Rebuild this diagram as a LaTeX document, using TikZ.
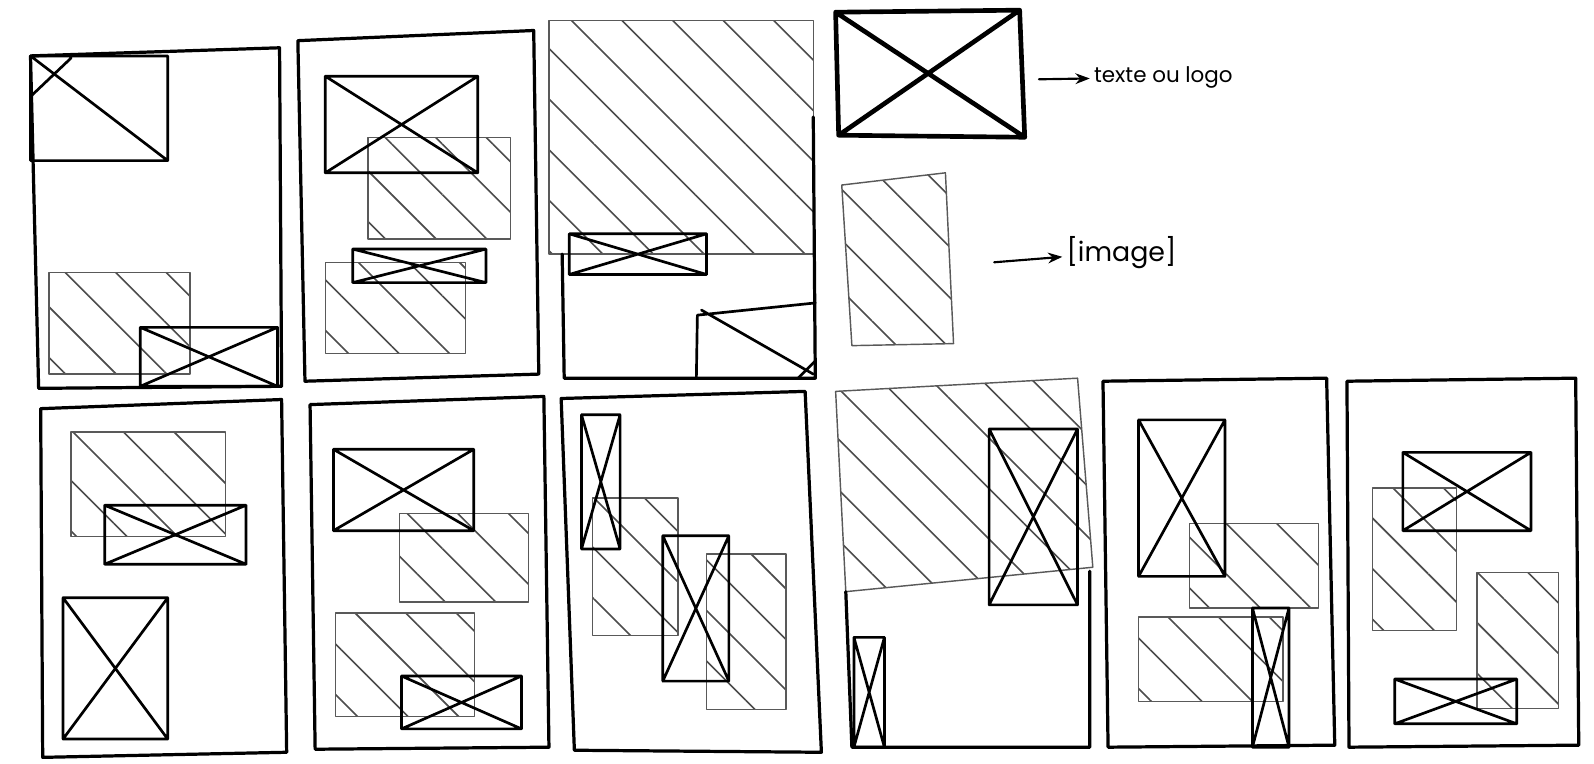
\documentclass[tikz,border=0pt]{standalone}
\usepackage{fontspec}
\usepackage{tikz}
\usetikzlibrary{patterns.meta,arrows.meta}
\newfontfamily\hand{Poppins}
\newcommand{\txtbox}[4]{\draw[txt] (#1,#2) rectangle (#3,#4) (#1,#2) -- (#3,#4) (#1,#4) -- (#3,#2);}
\newcommand{\imgbox}[4]{\draw[img] (#1,#2) rectangle (#3,#4);}

\begin{document}
\begin{tikzpicture}[x=0.01cm, y=-0.01cm, line join=round, line cap=round]
  \tikzstyle{page}=[draw=black, line width=0.9pt]
  \tikzstyle{txt}=[draw=black, line width=0.75pt]
  \tikzstyle{img}=[draw=black!65, line width=0.4pt,
                   pattern={Lines[angle=-45,distance=10pt,line width=0.45pt]}, pattern color=black!70]
  \tikzstyle{arr}=[-{Stealth[length=4pt]}, line width=0.6pt]
  \tikzstyle{lbl}=[font=\hand\fontsize{6}{7}\selectfont, inner sep=1pt, anchor=west]
  \useasboundingbox (0,0) rectangle (1568,751);

  \draw[page] (30,55) -- (275,47) -- (277,380) -- (38,382) -- cycle;
  \imgbox{48}{268}{187}{368}
  \draw[txt] (30,55) rectangle (165,158) (30,55) -- (165,158) (30,95) -- (70,57);
  \txtbox{138}{322}{273}{380}

  \draw[page] (293,40) -- (525,30) -- (530,368) -- (300,375) -- cycle;
  \imgbox{362}{135}{502}{235}
  \imgbox{320}{258}{458}{348}
  \txtbox{320}{75}{470}{170}
  \txtbox{347}{245}{478}{278}

  \imgbox{540}{20}{800}{250}
  \draw[page] (553,250) -- (555,372) -- (802,372) -- (800,115);
  \txtbox{560}{230}{695}{270}
  \draw[txt] (686,310) -- (685,372) (686,310) -- (802,298) (690,305) -- (800,368) (785,372) -- (802,355);

  \draw[txt, line width=1.3pt] (822,12) -- (1003,10) -- (1008,135) -- (825,133) -- cycle
    (822,12) -- (1008,135) (825,133) -- (1003,10);
  \coordinate (tl) at (1022,78);
  \node[lbl] (tlabel) at (1072,76) {texte ou logo};
  \draw[arr] (tl) -- (tlabel);
  \draw[img] (828,182) -- (930,170) -- (938,338) -- (838,340) -- cycle;
  \coordinate (il) at (978,258);
  \node[lbl, font=\hand\fontsize{7.5}{9}\selectfont] (ilabel) at (1045,248) {[image]};
  \draw[arr] (il) -- (ilabel);

  \draw[page] (40,402) -- (277,393) -- (282,740) -- (42,745) -- cycle;
  \imgbox{70}{425}{222}{528}
  \txtbox{103}{497}{242}{555}
  \txtbox{62}{588}{165}{727}

  \draw[page] (305,398) -- (535,390) -- (540,735) -- (310,737) -- cycle;
  \imgbox{393}{505}{520}{592}
  \imgbox{330}{603}{467}{705}
  \txtbox{328}{442}{466}{522}
  \txtbox{395}{665}{513}{717}

  \draw[page] (552,392) -- (792,385) -- (808,740) -- (565,738) -- cycle;
  \imgbox{583}{490}{667}{625}
  \imgbox{695}{545}{773}{698}
  \txtbox{572}{408}{610}{540}
  \txtbox{652}{527}{717}{670}

  \draw[img] (822,385) -- (1060,372) -- (1075,558) -- (832,582) -- cycle;
  \draw[page] (832,582) -- (838,735) -- (1072,735) -- (1072,562);
  \txtbox{973}{422}{1060}{595}
  \txtbox{840}{627}{870}{735}

  \draw[page] (1085,375) -- (1305,372) -- (1313,733) -- (1090,735) -- cycle;
  \imgbox{1170}{515}{1297}{598}
  \imgbox{1120}{607}{1262}{690}
  \txtbox{1120}{413}{1205}{567}
  \txtbox{1232}{598}{1268}{735}

  \draw[page] (1325,375) -- (1550,372) -- (1553,733) -- (1327,735) -- cycle;
  \imgbox{1350}{480}{1433}{620}
  \imgbox{1453}{563}{1533}{697}
  \txtbox{1380}{445}{1506}{522}
  \txtbox{1372}{668}{1492}{712}
\end{tikzpicture}
\end{document}
